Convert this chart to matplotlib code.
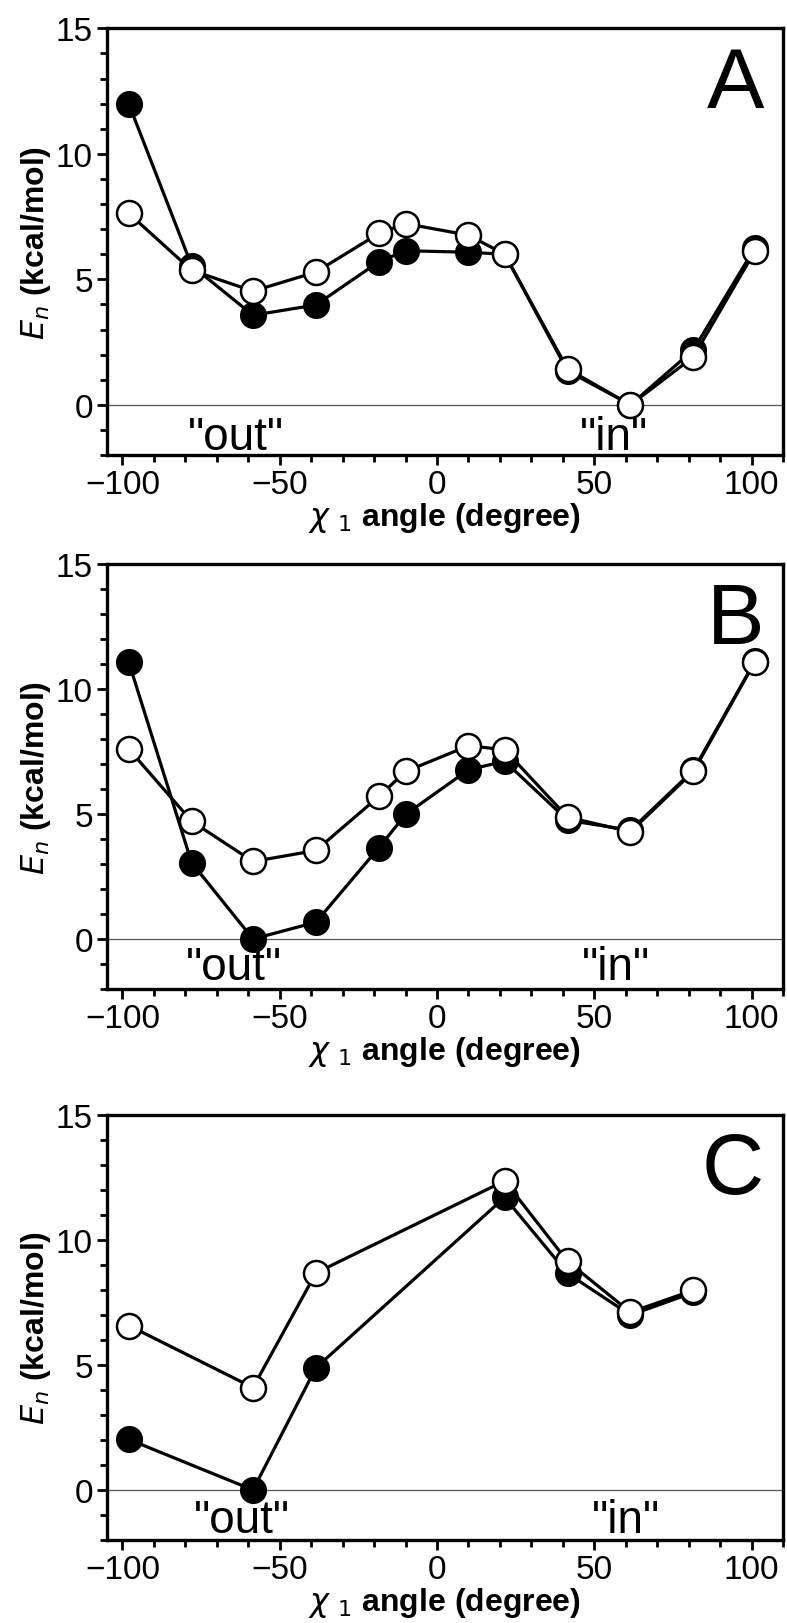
import matplotlib
matplotlib.use("Agg")
import matplotlib.pyplot as plt
from matplotlib.ticker import MultipleLocator

# chi1 angles and relative energies (kcal/mol), filled = black circles, open = white circles
x_ab = [-98, -78, -58.5, -38.5, -18.5, -10, 10, 21.5, 41.5, 61.5, 81.5, 101]
a_filled = [12.0, 5.55, 3.57, 3.98, 5.70, 6.14, 6.08, 6.0, 1.35, 0.0, 2.19, 6.25]
a_open = [7.63, 5.36, 4.53, 5.29, 6.83, 7.22, 6.76, 6.0, 1.43, 0.0, 1.91, 6.12]
b_filled = [11.08, 3.05, 0.0, 0.67, 3.65, 4.98, 6.77, 7.11, 4.75, 4.35, 6.75, 11.1]
b_open = [7.60, 4.71, 3.10, 3.54, 5.70, 6.70, 7.73, 7.57, 4.87, 4.29, 6.70, 11.08]

x_c = [-98, -58.5, -38.5, 21.5, 41.5, 61.5, 81.5]
c_filled = [2.02, 0.0, 4.88, 11.69, 8.65, 6.99, 7.89]
c_open = [6.57, 4.09, 8.67, 12.35, 9.13, 7.10, 7.98]

letters = ["A", "B", "C"]
out_pos = [(-63.8, -1.76), (-64.4, -1.6), (-62.1, -1.66)]
in_pos = [(56.1, -1.76), (57.0, -1.6), (60.0, -1.66)]

plt.rcParams["font.family"] = ["Liberation Sans", "DejaVu Sans"]

fig = plt.figure(figsize=(7.87, 16.24), dpi=100)
boxes = [[0.1356, 0.7192, 0.8594, 0.2627],
         [0.1356, 0.3904, 0.8594, 0.2617],
         [0.1356, 0.0511, 0.8594, 0.2620]]
data = [(x_ab, a_filled, a_open), (x_ab, b_filled, b_open), (x_c, c_filled, c_open)]

for i in range(3):
    ax = fig.add_axes(boxes[i])
    xs, yf, yo = data[i]
    ax.axhline(0, color="#555555", lw=0.9, zorder=1)
    ax.plot(xs, yf, "-o", color="black", lw=2.3, ms=18, mfc="black", mec="black", mew=1.5, zorder=2)
    ax.plot(xs, yo, "-o", color="black", lw=2.3, ms=18, mfc="white", mec="black", mew=1.8, zorder=3)
    ax.set_xlim(-105, 110)
    ax.set_ylim(-2, 15)
    ax.xaxis.set_major_locator(MultipleLocator(50))
    ax.xaxis.set_minor_locator(MultipleLocator(10))
    ax.yaxis.set_major_locator(MultipleLocator(5))
    ax.yaxis.set_minor_locator(MultipleLocator(1))
    ax.set_yticks([0, 5, 10, 15])
    ax.tick_params(which="both", direction="out", width=2.0, labelsize=24, pad=3)
    ax.tick_params(which="major", length=7)
    ax.tick_params(which="minor", length=5)
    for s in ax.spines.values():
        s.set_linewidth(2.4)
    ax.set_xlabel(r"$\chi$ $_1$ angle (degree)", fontsize=23, fontweight="bold", labelpad=0)
    ax.set_ylabel(r"$E_n$ (kcal/mol)", fontsize=23, fontweight="bold", labelpad=2)
    ax.text(0.972, 0.815, letters[i], transform=ax.transAxes, ha="right", va="baseline", fontsize=62)
    ax.text(out_pos[i][0], out_pos[i][1], '"out"', ha="center", va="baseline", fontsize=33)
    ax.text(in_pos[i][0], in_pos[i][1], '"in"', ha="center", va="baseline", fontsize=33)

fig.savefig("out.png", dpi=100)
